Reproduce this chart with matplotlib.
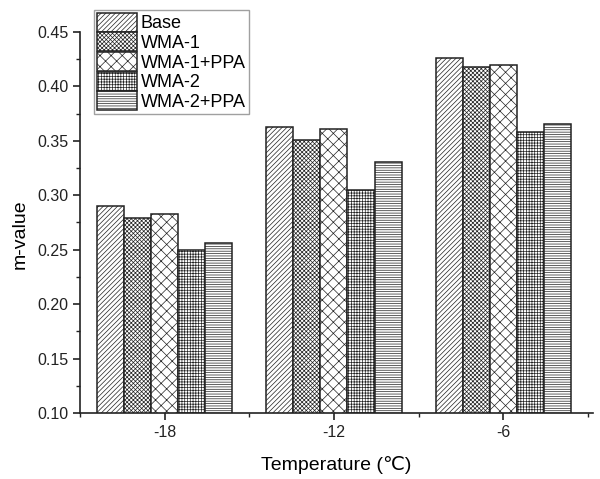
import matplotlib
matplotlib.use("Agg")
import matplotlib.pyplot as plt
import numpy as np
from matplotlib.ticker import MultipleLocator, FormatStrFormatter

plt.rcParams['font.family'] = ['Liberation Sans', 'DejaVu Sans', 'Noto Sans CJK SC']
plt.rcParams['hatch.linewidth'] = 0.5
plt.rcParams['hatch.color'] = '#444444'

categories = ['-18', '-12', '-6']
series = ['Base', 'WMA-1', 'WMA-1+PPA', 'WMA-2', 'WMA-2+PPA']
base = [0.290, 0.363, 0.426]
wma1 = [0.279, 0.351, 0.418]
wma1_ppa = [0.283, 0.361, 0.420]
wma2 = [0.250, 0.305, 0.358]
wma2_ppa = [0.256, 0.331, 0.365]
values = [base, wma1, wma1_ppa, wma2, wma2_ppa]
hatches = ['///////', 'xxxxxxxx', 'xxx', '++++++', '-------']

fig = plt.figure(figsize=(6.0, 4.79), dpi=100)
ax = fig.add_axes([0.1333, 0.1378, 0.855, 0.7955])

x = np.arange(len(categories))
w = 0.16
for i, (name, vals, h) in enumerate(zip(series, values, hatches)):
    ax.bar(x + (i - 2) * w, vals, width=w, bottom=0, facecolor='white',
           edgecolor='#222222', linewidth=1.1, hatch=h, label=name)

ax.set_xlim(-0.5, 2.53)
ax.set_ylim(0.10, 0.45)
ax.set_xticks(x)
ax.set_xticklabels(categories)
ax.set_xticks([-0.5, 0.5, 1.5, 2.5], minor=True)
ax.yaxis.set_major_locator(MultipleLocator(0.05))
ax.yaxis.set_minor_locator(MultipleLocator(0.025))
ax.yaxis.set_major_formatter(FormatStrFormatter('%.2f'))

for s in ['top', 'right']:
    ax.spines[s].set_visible(False)
for s in ['left', 'bottom']:
    ax.spines[s].set_linewidth(1.2)
    ax.spines[s].set_color('#222222')

ax.tick_params(axis='both', which='major', direction='out', length=5, width=1.2,
               labelsize=11.5, colors='#222222')
ax.tick_params(axis='both', which='minor', direction='out', length=3, width=1.0,
               colors='#222222')

ax.set_ylabel('m-value', fontsize=14, labelpad=8)
ax.yaxis.set_label_coords(-0.10, 0.47)
ax.set_xlabel('Temperature (℃)', fontsize=14, labelpad=12)

leg = ax.legend(loc='upper left', bbox_to_anchor=(94 / 600, 1 - 10 / 479),
                bbox_transform=fig.transFigure, fontsize=13, frameon=True,
                fancybox=False, edgecolor='#888888', handlelength=2.25,
                handleheight=1.25, labelspacing=0.0, handletextpad=0.2,
                borderpad=0.15, borderaxespad=0.0)
leg.get_frame().set_linewidth(1.0)

fig.savefig('out.png', dpi=100)
